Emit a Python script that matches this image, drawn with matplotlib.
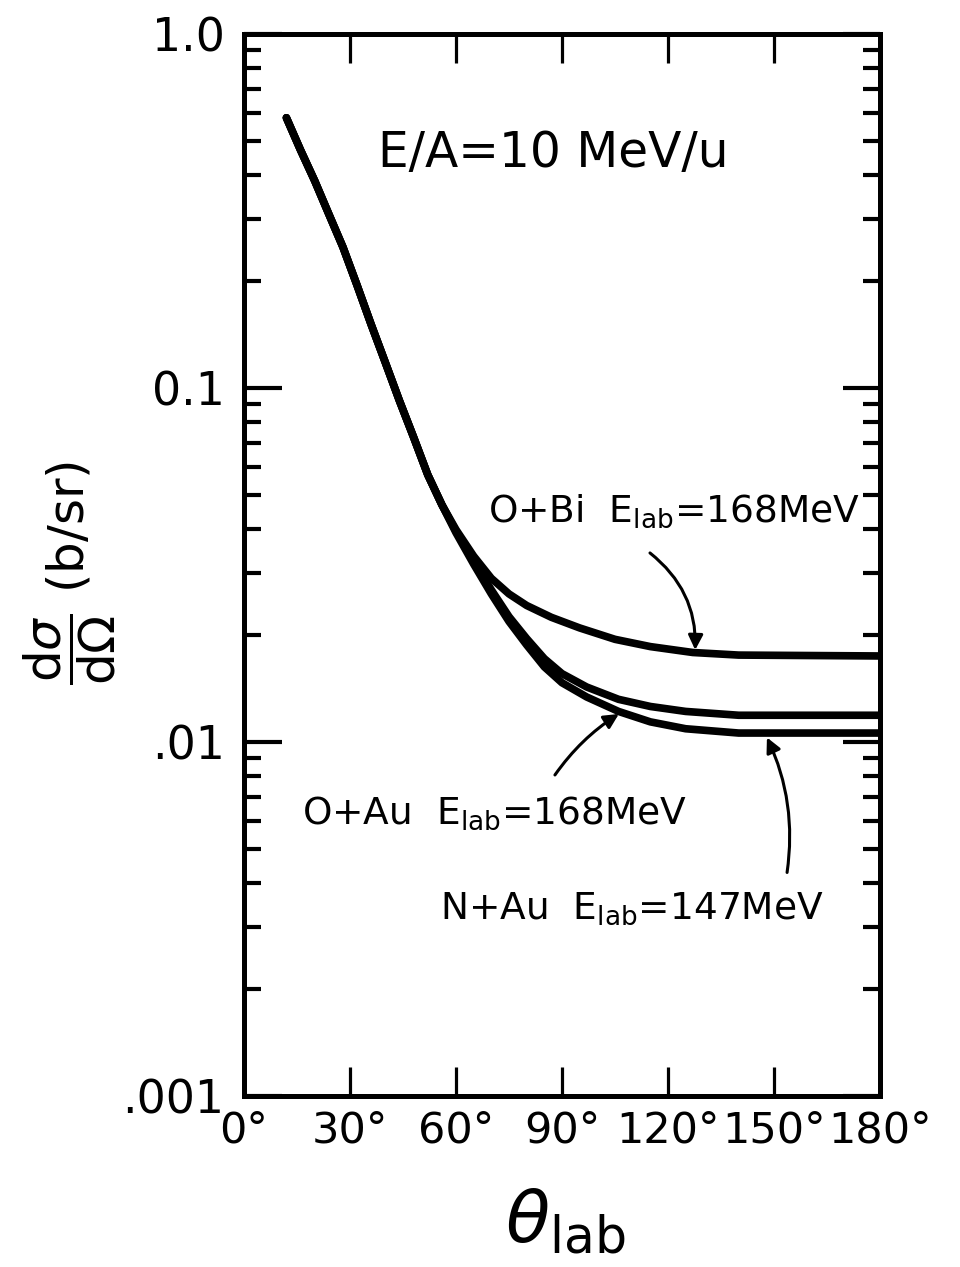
import numpy as np
import matplotlib
matplotlib.use('Agg')
from matplotlib import pyplot as plt
from matplotlib.ticker import LogLocator, NullFormatter, FixedLocator

plt.rcParams['font.family'] = 'DejaVu Sans'
plt.rcParams['mathtext.fontset'] = 'dejavusans'

# common part of the three curves (small angles)
theta_common = [12, 16, 20, 24, 28, 32, 36, 40, 44, 48, 52, 56, 60]
sig_common = [0.58, 0.47, 0.385, 0.31, 0.25, 0.195, 0.151, 0.118, 0.092, 0.0726, 0.0569, 0.0468, 0.0394]

# after the curves split
theta_obi = [60, 65, 70, 75, 80, 87, 95, 105, 115, 127, 140, 180]
sig_obi = [0.0398, 0.0335, 0.029, 0.0262, 0.0243, 0.0225, 0.021, 0.0195, 0.0186, 0.0179, 0.0176, 0.0175]

theta_oau = [60, 65, 70, 75, 80, 85, 90, 97, 106, 115, 125, 140, 180]
sig_oau = [0.0394, 0.0324, 0.0269, 0.0226, 0.0196, 0.0172, 0.0156, 0.0143, 0.0132, 0.0126, 0.0122, 0.0119, 0.0119]

theta_nau = [60, 65, 70, 75, 80, 85, 90, 97, 106, 115, 125, 140, 180]
sig_nau = [0.039, 0.0318, 0.0262, 0.0219, 0.0188, 0.0163, 0.0147, 0.0134, 0.0122, 0.0114, 0.0109, 0.0106, 0.0106]

xticks = [0, 30, 60, 90, 120, 150, 180]
xlabels = ['0°', '30°', '60°', '90°', '120°', '150°', '180°']
yticks = [0.001, 0.01, 0.1, 1.0]
ylabels = ['.001', '.01', '0.1', '1.0']

fig = plt.figure(figsize=(9.6, 12.67), dpi=100)
ax = fig.add_axes([244/960, 1 - 1096/1267, 636/960, 1062/1267])

lw = 5.5
for th, sg in [(theta_obi, sig_obi), (theta_oau, sig_oau), (theta_nau, sig_nau)]:
    x = theta_common[:-1] + th
    y = sig_common[:-1] + sg
    ax.plot(x, y, color='black', lw=lw, solid_capstyle='round', solid_joinstyle='round')

ax.set_yscale('log')
ax.set_xlim(0, 180)
ax.set_ylim(0.001, 1.0)

ax.xaxis.set_major_locator(FixedLocator(xticks))
ax.set_xticklabels(xlabels, fontsize=31)
ax.yaxis.set_major_locator(FixedLocator(yticks))
ax.set_yticklabels(ylabels, fontsize=33)
ax.yaxis.set_minor_locator(LogLocator(base=10, subs=np.arange(2, 10)))
ax.yaxis.set_minor_formatter(NullFormatter())

ax.tick_params(axis='y', which='major', direction='in', length=27, width=3, left=True, right=True, pad=14)
ax.tick_params(axis='y', which='minor', direction='in', length=12, width=3, left=True, right=True)
ax.tick_params(axis='x', which='major', direction='in', length=21, width=2.3, top=True, bottom=True, pad=10)
for s in ax.spines.values():
    s.set_linewidth(3.6)

# labels inside the plot
ax.text(87.5, 0.46, 'E/A=10 MeV/u', fontsize=35, ha='center', va='center')
ax.text(121.7, 0.0418, r'O+Bi  E$_{\mathrm{lab}}$=168MeV', fontsize=27, ha='center', va='baseline')
ax.text(71.0, 0.00588, r'O+Au  E$_{\mathrm{lab}}$=168MeV', fontsize=27, ha='center', va='baseline')
ax.text(109.8, 0.00316, r'N+Au  E$_{\mathrm{lab}}$=147MeV', fontsize=27, ha='center', va='baseline')

ap = dict(arrowstyle='-|>', color='black', lw=2.2, mutation_scale=22, shrinkA=0, shrinkB=0)
ax.annotate('', xy=(127.7, 0.0182), xytext=(114.9, 0.0342),
            arrowprops=dict(ap, connectionstyle='arc3,rad=-0.25'))
ax.annotate('', xy=(106.1, 0.0120), xytext=(88.0, 0.00807),
            arrowprops=dict(ap, connectionstyle='arc3,rad=-0.1'))
ax.annotate('', xy=(148.0, 0.0103), xytext=(153.7, 0.00428),
            arrowprops=dict(ap, connectionstyle='arc3,rad=0.15'))

fig.text(70/960, 1 - 573/1267, r'$\dfrac{\mathrm{d}\sigma}{\mathrm{d}\Omega}$ (b/sr)', fontsize=36,
         rotation=90, ha='center', va='center')
fig.text(565/960, 1 - 1222/1267, r'$\theta_{\mathrm{lab}}$', fontsize=52, ha='center', va='center')

fig.savefig('out.png', dpi=100)
